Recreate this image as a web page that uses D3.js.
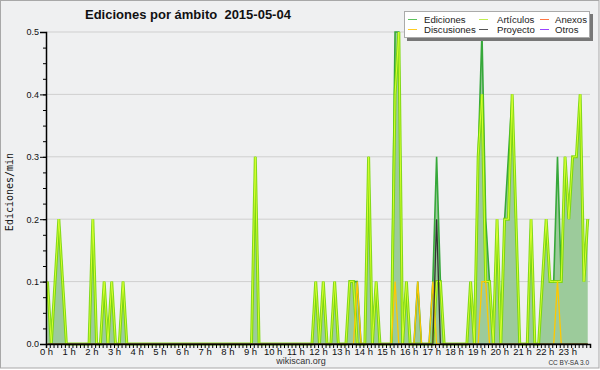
<!DOCTYPE html>
<html>
<head>
<meta charset="utf-8">
<script src="https://cdn.jsdelivr.net/npm/d3@7"></script>
<style>
  body { margin: 0; background: #fff; }
  text { font-family: "Liberation Sans", Arial, sans-serif; }
</style>
</head>
<body>
<div id="chart"></div>
<script>
// bins are 10 minutes (144 per day), values in edits/min, only non-zero bins listed
let ediciones = [[0,0.1],[2,0.1],[3,0.2],[4,0.1],[12,0.2],[15,0.1],[17,0.1],[20,0.1],
  [55,0.3],[71,0.1],[73,0.1],[76,0.1],[80,0.1],[81,0.1],[82,0.1],[85,0.3],[87,0.1],
  [92,0.5],[93,0.5],[95,0.1],[98,0.1],[102,0.1],[103,0.3],[104,0.1],[112,0.1],
  [114,0.3],[115,0.5],[116,0.2],[117,0.1],[119,0.2],[121,0.2],[122,0.3],[123,0.4],
  [124,0.2],[128,0.2],[131,0.1],[132,0.2],[133,0.1],[134,0.1],[135,0.3],[136,0.1],
  [137,0.3],[138,0.2],[139,0.3],[140,0.3],[141,0.4],[142,0.1],[143,0.2]];
let articulos = [[0,0.1],[2,0.1],[3,0.2],[4,0.1],[12,0.2],[15,0.1],[17,0.1],[20,0.1],
  [55,0.3],[71,0.1],[73,0.1],[76,0.1],[80,0.1],[81,0.1],[85,0.3],[87,0.1],
  [92,0.4],[93,0.5],[95,0.1],[103,0.1],[104,0.1],[112,0.1],
  [114,0.3],[115,0.4],[116,0.1],[117,0.1],[119,0.2],[121,0.2],[122,0.2],[123,0.4],
  [124,0.2],[128,0.2],[131,0.1],[132,0.2],[133,0.1],[134,0.1],[135,0.1],[136,0.1],
  [137,0.3],[138,0.2],[139,0.3],[140,0.3],[141,0.4],[142,0.1],[143,0.2]];
let discusiones = [[82,0.1],[92,0.1],[98,0.1],[102,0.1],[115,0.1],[116,0.1],[135,0.1]];
let proyecto = [[103,0.2]];
let anexos = [];
let otros = [];

let hourLabels = ["0 h","1 h","2 h","3 h","4 h","5 h","6 h","7 h","8 h","9 h","10 h","11 h",
  "12 h","13 h","14 h","15 h","16 h","17 h","18 h","19 h","20 h","21 h","22 h","23 h"];
let yTicks = [0, 0.1, 0.2, 0.3, 0.4, 0.5];
let legendNames = ["Ediciones","Discusiones","Artículos","Proyecto","Anexos","Otros"];
let legendColors = ["#5cc25c","#ffcc22","#c0ee50","#555555","#ff7744","#9944ff"];

let width = 600, height = 370;
let margin = {left: 46, right: 10, top: 32, bottom: 26};
let nBins = 144;

function fullDay(pairs){
  let a = new Array(nBins).fill(0);
  pairs.forEach(p => { a[p[0]] = p[1]; });
  return a.map((v, i) => ({bin: i, v: v}));
}

let svg = d3.select("#chart").append("svg")
    .attr("width", width)
    .attr("height", height);

svg.append("rect")
    .attr("x", 0.5).attr("y", 0.5)
    .attr("width", width - 1.5).attr("height", height - 2.5)
    .attr("fill", "#eff0f1")
    .attr("stroke", "#a8a8a8");

let x = d3.scaleLinear()
    .domain([0, nBins])
    .range([margin.left, width - margin.right]);

let y = d3.scaleLinear()
    .domain([0, 0.5])
    .range([height - margin.bottom, margin.top]);

// grid
svg.append("g").selectAll("line")
    .data(yTicks.slice(1))
    .enter().append("line")
    .attr("x1", x(0)).attr("x2", x(nBins))
    .attr("y1", d => y(d)).attr("y2", d => y(d))
    .attr("stroke", "#cfcfcf");

let area = d3.area()
    .x(d => x(d.bin) + 1.5)
    .y0(y(0))
    .y1(d => y(d.v));

let line = d3.line()
    .x(d => x(d.bin) + 1.5)
    .y(d => y(d.v));

svg.append("path")
    .datum(fullDay(ediciones))
    .attr("d", area)
    .attr("fill", "#9ccb9b");

svg.append("path")
    .datum(fullDay(ediciones))
    .attr("d", line)
    .attr("fill", "none")
    .attr("stroke", "#36a83a")
    .attr("stroke-width", 1.6);

// articulos: bright line with a lighter core
svg.append("path")
    .datum(fullDay(articulos))
    .attr("d", line)
    .attr("fill", "none")
    .attr("stroke", "#78d800")
    .attr("stroke-opacity", 0.85)
    .attr("stroke-width", 3);
svg.append("path")
    .datum(fullDay(articulos))
    .attr("d", line)
    .attr("fill", "none")
    .attr("stroke", "#d8ff30")
    .attr("stroke-width", 1);

svg.append("path")
    .datum(fullDay(discusiones))
    .attr("d", line)
    .attr("fill", "none")
    .attr("stroke", "#ffc800")
    .attr("stroke-width", 1.3);

svg.append("path")
    .datum(fullDay(proyecto))
    .attr("d", line)
    .attr("fill", "none")
    .attr("stroke", "#333")
    .attr("stroke-width", 1.3);

// axes
let xAxis = svg.append("g")
    .attr("transform", `translate(0, ${y(0)})`)
    .call(d3.axisBottom(x)
      .tickValues(d3.range(0, nBins + 1))
      .tickSize(4)
      .tickPadding(0)
      .tickFormat(d => (d % 6 === 0 && d < nBins) ? hourLabels[d / 6] : ""));
xAxis.select(".domain").attr("stroke", "#000").attr("stroke-width", 1.5);
xAxis.selectAll("text").style("font-size", "9.5px").attr("fill", "#111");

let yMinor = svg.append("g")
    .attr("transform", `translate(${x(0)}, 0)`)
    .call(d3.axisLeft(y).tickValues(d3.range(0, 0.5001, 0.025)).tickSize(3).tickFormat(""));
yMinor.select(".domain").remove();

let yAxis = svg.append("g")
    .attr("transform", `translate(${x(0)}, 0)`)
    .call(d3.axisLeft(y).tickValues(yTicks).tickSize(6).tickPadding(1).tickFormat(d3.format(".1f")));
yAxis.select(".domain").attr("stroke", "#000").attr("stroke-width", 1.5);
yAxis.selectAll("text").style("font-size", "9px").attr("fill", "#111");

// titles
svg.append("text")
    .attr("x", 85).attr("y", 18.5)
    .style("font-size", "13px")
    .style("font-weight", "bold")
    .attr("fill", "#111")
    .text("Ediciones por ámbito\u00a0\u00a02015-05-04");

svg.append("text")
    .attr("transform", `translate(13, 192) rotate(-90)`)
    .style("text-anchor", "middle")
    .style("font-family", "'DejaVu Sans Mono', monospace")
    .style("font-size", "10px")
    .attr("fill", "#111")
    .text("Ediciones/min");

svg.append("text")
    .attr("x", 301).attr("y", 363.5)
    .style("text-anchor", "middle")
    .style("font-size", "9px")
    .attr("fill", "#333")
    .text("wikiscan.org");

svg.append("text")
    .attr("x", 589).attr("y", 365)
    .style("text-anchor", "end")
    .style("font-size", "6.5px")
    .attr("fill", "#333")
    .text("CC BY-SA 3.0");

// legend
let lg = svg.append("g");
lg.append("rect")
    .attr("x", 407).attr("y", 14).attr("width", 186).attr("height", 27)
    .attr("fill", "#777");
lg.append("rect")
    .attr("x", 404.5).attr("y", 11.5).attr("width", 185).attr("height", 26)
    .attr("fill", "#fff")
    .attr("stroke", "#aaa");

let colX = [408, 479, 540];
let textX = [424, 497, 555];
legendNames.forEach((name, i) => {
  let c = Math.floor(i / 2), r = i % 2;
  let ly = 19.5 + r * 10;
  lg.append("line")
      .attr("x1", colX[c]).attr("x2", colX[c] + 9)
      .attr("y1", ly).attr("y2", ly)
      .attr("stroke", legendColors[i]);
  lg.append("text")
      .attr("x", textX[c]).attr("y", ly + 3.5)
      .style("font-size", "9.6px")
      .attr("fill", "#222")
      .text(name);
});
</script>
</body>
</html>
